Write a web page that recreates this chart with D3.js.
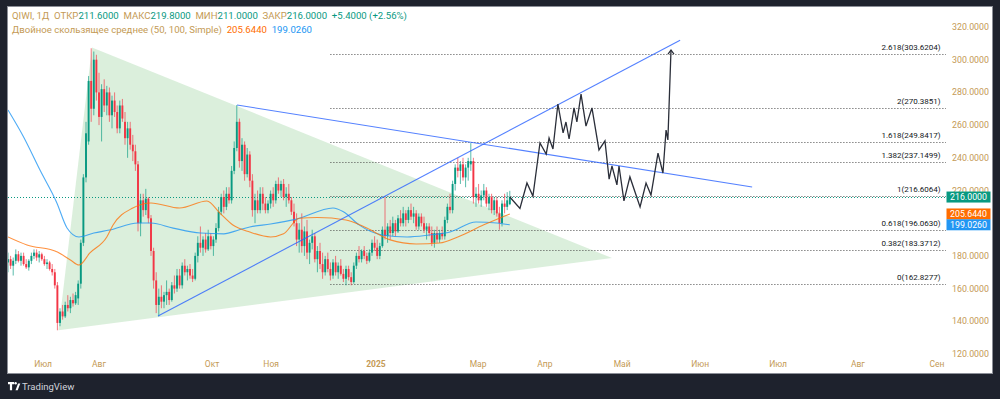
<!DOCTYPE html>
<html>
<head>
<meta charset="utf-8">
<script src="https://cdn.jsdelivr.net/npm/d3@7"></script>
<style>
  html, body { margin: 0; padding: 0; background: #1e222d; }
  svg { display: block; font-family: Roboto, "Liberation Sans", sans-serif; }
</style>
</head>
<body>
<svg id="chart" width="1000" height="399"></svg>
<script>
// daily bars, [open, high, low, close]
const ohlc = [
  [176,182,170,178],[178,180,172,174],[174,179,168,177],[177,184,175,181],[181,183,176,177],
  [177,182,174,180],[180,182,174,175],[175,178,172,173],[173,178,171,177],[177,182,175,180],
  [180,184,178,182],[182,184,177,179],[179,183,176,181],[181,182,177,178],[178,180,174,175],
  [175,178,172,176],[176,177,171,172],[172,175,168,170],[170,172,160,162],[162,164,134.5,139],
  [139,148,137,146],[146,150,141,143],[143,152,142,150],[150,156,146,148],[148,155,145,153],
  [153,157,149,151],[151,158,150,156],[154,165,150,163],[163,190,160,188],[188,230,186,228],
  [228,262,225,255],[250,290,248,287],[287,307,262,270],[270,305,266,300],[300,303,275,280],
  [280,292,260,265],[265,285,250,282],[282,288,268,272],[272,284,266,280],[280,283,262,266],
  [266,278,258,275],[275,280,265,268],[268,272,255,258],[258,275,255,272],[272,276,262,264],
  [262,268,248,252],[252,262,240,258],[258,262,245,248],[248,254,238,244],[244,248,232,236],
  [236,238,195,200],[200,218,192,214],[214,218,204,208],[208,221,205,215],[215,216,200,203],
  [203,205,180,183],[183,185,160,165],[165,170,145,150],[150,160,143,155],[155,162,148,152],
  [152,158,148,156],[156,165,150,158],[158,160,150,153],[153,164,152,162],[162,168,157,160],
  [160,172,158,168],[168,172,160,162],[162,176,160,174],[174,178,168,170],[170,174,165,172],
  [172,175,166,168],[168,172,164,166],[166,182,165,180],[180,192,176,188],[188,198,182,185],
  [185,192,180,190],[190,194,182,184],[184,196,183,192],[192,194,184,186],[186,192,180,190],
  [190,200,188,197],[197,210,195,207],[207,218,205,216],[216,220,206,210],[210,222,208,218],
  [218,222,212,214],[214,235,212,232],[232,250,230,246],[246,272.3,244,262],[262,264,234,238],
  [238,252,232,248],[248,250,226,230],[230,246,228,242],[242,244,222,226],[226,230,204,208],
  [208,218,200,214],[214,220,206,208],[208,222,206,218],[218,222,208,212],[212,216,206,208],
  [208,214,206,212],[212,220,209,218],[218,222,210,214],[214,226,212,224],[224,228,218,220],
  [220,226,216,224],[224,227,214,216],[216,222,210,218],[218,224,212,214],[214,216,205,207],
  [207,212,198,200],[200,206,186,190],[190,200,182,196],[196,206,182,186],[186,198,180,195],
  [195,202,178,182],[182,190,175,188],[188,196,184,192],[192,194,176,178],[178,186,170,183],
  [183,188,172,175],[175,182,166,170],[170,180,168,178],[178,182,170,172],[172,176,165,168],
  [168,178,166,176],[176,180,168,170],[170,176,166,174],[174,178,168,169],[169,172,164,166],
  [166,174,162,172],[172,174,165,167],[167,170,162,164],[164,176,163,174],[174,182,172,180],
  [180,186,176,178],[178,184,176,183],[183,186,178,180],[180,182,175,177],[177,184,176,182],
  [182,190,180,188],[188,192,183,185],[185,190,178,180],[180,188,178,186],[186,198,185,196],
  [196,216,190,192],[192,200,188,198],[198,202,190,194],[194,204,192,200],[200,202,192,195],
  [195,205,194,203],[203,208,198,200],[200,210,198,206],[206,208,198,202],[202,210,200,208],
  [208,212,202,204],[204,210,200,206],[206,208,196,198],[198,206,196,204],[204,206,198,200],
  [200,204,194,196],[196,200,190,198],[198,200,192,194],[194,198,186,188],[188,196,185,194],
  [194,198,188,190],[190,196,188,194],[194,198,190,192],[192,204,190,202],[202,212,200,210],
  [210,218,206,208],[208,226,206,224],[224,236,220,234],[234,240,228,232],[232,238,224,236],
  [236,240,226,228],[228,236,222,234],[234,240,226,238],[236,249,232,238],[238,240,212,216],
  [216,222,210,218],[218,224,212,214],[214,220,210,217],[217,224,214,220],[220,222,210,212],
  [212,218,208,216],[216,218,206,208],[208,216,205,214],[214,216,204,206],[206,210,196,200],
  [200,214,198,212],[212,218,206,210],[210,219,208,214],[211.6,219.8,211,216]
];

// moving averages, [bar, value]
const ma50 = [
  [0,191.6],[7.3,186.7],[19,182.4],[24,177.5],[27.3,174.4],[31.5,181.8],[38,191.6],[40.4,198.9],
  [48,209.3],[55,212.4],[66,209.3],[76.5,213.6],[81.5,206.2],[86.5,198.9],[93,194.6],[101,191.6],
  [106,193.5],[112,203],[119,203.5],[130,202],[138,197.1],[147,189.8],[157,187.3],[166,187.9],
  [173,191.6],[183,199],[193,205.644]
];
const ma100 = [
  [0,269.2],[6,252.7],[12.3,232.5],[18.8,212.4],[22.7,197.1],[27.3,191.6],[33,194],[39,195.8],
  [50,200.1],[55,200.1],[63.5,197],[74,194],[83,193.5],[89,196],[93,197.7],[101,199.5],
  [111,202.5],[125,209.3],[129,207],[135,199],[144,192.8],[153.5,191.6],[162,192.8],[170,194.6],
  [180,200.7],[188,200.1],[193,199.026]
];

// drawings
const triangle = [[19.4,134.5],[32.3,307.5],[232.3,178.7]];
const trendUp = [[57.7,143.2],[258.5,311.9]];
const trendDown = [[88.1,272.3],[286.2,222.1]];
const projection = [
  [193,216],[196.9,209],[199.6,224.6],[201.9,216.6],[204.6,249.1],[207,242.3],[208.1,252.1],
  [209.6,245.4],[211.5,272.9],[213.5,255.2],[214.6,261.9],[215.8,251.5],[217.7,270.5],
  [218.8,261.9],[220.4,279],[222.3,259.4],[224.6,270.5],[227.3,244.8],[229.6,250.3],[231.2,227],
  [232.3,235],[234.2,223.4],[235,235],[236.9,213.6],[239.2,228.3],[243.1,209.9],[245.4,224.6],
  [247.3,217.2],[250,242.9],[251.9,230.7],[253.1,257],[253.8,250.9],[255,305.9]
];

const fibLevels = [0, 0.382, 0.618, 1, 1.382, 1.618, 2, 2.618];
const fibPrices = [162.8277, 183.3712, 196.0630, 216.6064, 237.1499, 249.8417, 270.3851, 303.6204];
const fibFrom = 124, fibTo = 361;

const priceTicks = [120, 140, 160, 180, 200, 220, 240, 260, 280, 300, 320];
const timeLabels = ["Июл","Авг","Окт","Ноя","2025","Мар","Апр","Май","Июн","Июл","Авг","Сен"];
const timeTickBars = [13.5, 35, 78.5, 101.2, 141.5, 180.8, 206.5, 236.2, 266.2, 296.2, 326.9, 357.3];

const lastClose = 216.0, ma50Last = 205.644, ma100Last = 199.026;

const upColor = "#089981", downColor = "#f23645", tan = "#c49a55";

const svg = d3.select("#chart");
const x = d3.scaleLinear().domain([0, 100]).range([8, 268]);
const y = d3.scaleLinear().domain([120, 320]).range([354, 27]);

svg.append("rect").attr("x", 7.5).attr("y", 6.5).attr("width", 985).attr("height", 367)
  .attr("fill", "#fff").attr("stroke", "#8b8e97").attr("stroke-width", 1);

svg.append("clipPath").attr("id", "plot")
  .append("rect").attr("x", 8).attr("y", 7).attr("width", 938).attr("height", 366);
const plot = svg.append("g").attr("clip-path", "url(#plot)");

// triangle
plot.append("path")
  .attr("d", d3.line().x(d => x(d[0])).y(d => y(d[1]))(triangle) + "Z")
  .attr("fill", "rgba(76,175,80,0.2)");

// fib levels
fibPrices.forEach((p, k) => {
  plot.append("line")
    .attr("x1", x(fibFrom)).attr("x2", x(fibTo))
    .attr("y1", Math.round(y(p)) + 0.5).attr("y2", Math.round(y(p)) + 0.5)
    .attr("stroke", "#4a4a4a").attr("stroke-dasharray", "1,2");
  plot.append("text")
    .attr("x", x(fibTo) - 6).attr("y", y(p) - 4)
    .attr("text-anchor", "end").attr("font-size", 8).attr("fill", "#131722")
    .text(`${fibLevels[k]}(${p.toFixed(4)})`);
});

// last price line
plot.append("line")
  .attr("x1", 8).attr("x2", x(fibTo))
  .attr("y1", Math.round(y(lastClose)) + 0.5).attr("y2", Math.round(y(lastClose)) + 0.5)
  .attr("stroke", upColor).attr("stroke-dasharray", "1,2");

// candles
const bw = 1.9;
const bars = plot.append("g").selectAll("g").data(ohlc).join("g");
bars.append("line")
  .attr("x1", (d, i) => x(i)).attr("x2", (d, i) => x(i))
  .attr("y1", d => y(d[1])).attr("y2", d => y(d[2]))
  .attr("stroke", d => d[3] >= d[0] ? upColor : downColor)
  .attr("stroke-width", 0.9).attr("stroke-opacity", 0.75);
bars.append("rect")
  .attr("x", (d, i) => x(i) - bw / 2).attr("width", bw)
  .attr("y", d => y(Math.max(d[0], d[3])))
  .attr("height", d => Math.max(1, Math.abs(y(d[0]) - y(d[3]))))
  .attr("fill", d => d[3] >= d[0] ? upColor : downColor);

// moving averages
const maLine = d3.line().x(d => x(d[0])).y(d => y(d[1])).curve(d3.curveMonotoneX);
plot.append("path").attr("d", maLine(ma100)).attr("fill", "none")
  .attr("stroke", "#2196f3").attr("stroke-width", 1.1).attr("stroke-opacity", 0.8);
plot.append("path").attr("d", maLine(ma50)).attr("fill", "none")
  .attr("stroke", "#ff6d00").attr("stroke-width", 1.1).attr("stroke-opacity", 0.75);

// trend lines
[trendUp, trendDown].forEach(t => {
  plot.append("line")
    .attr("x1", x(t[0][0])).attr("y1", y(t[0][1]))
    .attr("x2", x(t[1][0])).attr("y2", y(t[1][1]))
    .attr("stroke", "#2962ff").attr("stroke-width", 1.1).attr("stroke-opacity", 0.8);
});

// projected path with arrow tip
const proj = d3.line().x(d => x(d[0])).y(d => y(d[1]));
plot.append("path").attr("d", proj(projection)).attr("fill", "none")
  .attr("stroke", "#2a2e39").attr("stroke-width", 1.3).attr("stroke-linejoin", "miter");
const tip = projection[projection.length - 1];
const tx = x(tip[0]), ty = y(tip[1]);
plot.append("path").attr("d", `M${tx - 3},${ty + 4}L${tx},${ty}L${tx + 3},${ty + 4}`)
  .attr("fill", "none").attr("stroke", "#2a2e39").attr("stroke-width", 1.2);

// price axis
svg.append("g").selectAll("text")
  .data(priceTicks.filter(v => v !== 200))
  .join("text")
  .attr("x", 952).attr("y", d => y(d) + 3)
  .attr("font-size", 8.8).attr("fill", tan)
  .text(d => d.toFixed(4));

// badges at the last values
const badges = [
  { v: lastClose, c: upColor },
  { v: ma50Last, c: "#ff6d00" },
  { v: ma100Last, c: "#2196f3" }
];
badges.forEach(b => {
  const yy = y(b.v);
  svg.append("rect").attr("x", 946.5).attr("y", yy - 5.5).attr("width", 44).attr("height", 11)
    .attr("fill", b.c);
  svg.append("text").attr("x", 968.5).attr("y", yy + 3.2).attr("text-anchor", "middle")
    .attr("font-size", 8.8).attr("fill", "#fff").text(b.v.toFixed(4));
});

// time axis
svg.append("g").selectAll("text")
  .data(timeLabels)
  .join("text")
  .attr("x", (d, i) => x(timeTickBars[i])).attr("y", 367)
  .attr("text-anchor", "middle").attr("font-size", 8.5).attr("fill", tan)
  .attr("font-weight", d => d === "2025" ? "bold" : null)
  .text(d => d);

// legend
const head = svg.append("text").attr("x", 12).attr("y", 19).attr("font-size", 9.6)
  .attr("xml:space", "preserve");
[["QIWI, 1Д  ОТКР", tan], ["211.6000", upColor], ["  МАКС", tan], ["219.8000", upColor],
 ["  МИН", tan], ["211.0000", upColor], ["  ЗАКР", tan], ["216.0000", upColor],
 ["  +5.4000 (+2.56%)", upColor]].forEach(s => {
  head.append("tspan").attr("fill", s[1]).text(s[0]);
});
const head2 = svg.append("text").attr("x", 12).attr("y", 33).attr("font-size", 9.6)
  .attr("xml:space", "preserve");
[["Двойное скользящее среднее (50, 100, Simple)  ", tan], ["205.6440", "#ff6d00"],
 ["  199.0260", "#2196f3"]].forEach(s => {
  head2.append("tspan").attr("fill", s[1]).text(s[0]);
});

// footer logo
const logo = svg.append("g").attr("fill", "#fff");
logo.append("path").attr("d", "M8,382h6v2.2h-1.9v6h-2.2v-6H8z");
logo.append("circle").attr("cx", 15.6).attr("cy", 383.2).attr("r", 1.2);
logo.append("path").attr("d", "M15.5,390.2l2.6-6.8h2.2l-2.6,6.8z");
svg.append("text").attr("x", 22).attr("y", 389.5).attr("font-size", 9.5)
  .attr("fill", "#d1d4dc").text("TradingView");
</script>
</body>
</html>
